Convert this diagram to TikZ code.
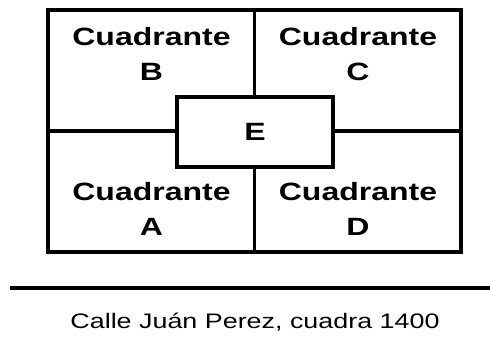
\documentclass[tikz,border=0pt]{standalone}
\usepackage{fontspec}
\setmainfont{Liberation Sans}
\begin{document}
\begin{tikzpicture}[x=0.5pt,y=0.5pt,line width=1.7pt,
  cuad/.style={align=center,xscale=1.28,font=\fontsize{12.5}{17.5}\selectfont\bfseries},
  calle/.style={xscale=1.28,font=\fontsize{10.5}{13}\selectfont}]
\useasboundingbox (0,0) rectangle (490,349);
%manzana
\node (manzana) at (254.5,218) [draw,rectangle,minimum width=206.5pt,minimum height=121pt,inner sep=0pt] {};
\node (E) at (255,217) [draw,rectangle,fill=white,cuad,minimum width=60.9pt,minimum height=35pt,inner sep=0pt] {E};
\draw (manzana.north) -- (manzana.north |- E.north);
\draw (manzana.south |- E.south) -- (manzana.south);
\draw (manzana.west) -- (manzana.west -| E.west);
\draw (E.east |- manzana.east) -- (manzana.east);

\node (B) at (151.5,295) [cuad] {Cuadrante\\B};
\node (C) at (358,295) [cuad] {Cuadrante\\C};
\node (A) at (151.5,140.5) [cuad] {Cuadrante\\A};
\node (D) at (358,140.5) [cuad] {Cuadrante\\D};

%calle
\coordinate (calleW) at (10,61);
\coordinate (calleE) at (490,61);
\draw (calleW) -- (calleE);
\node (nombre) at (255,26.5) [calle] {Calle Juán Perez, cuadra 1400};
\end{tikzpicture}
\end{document}
